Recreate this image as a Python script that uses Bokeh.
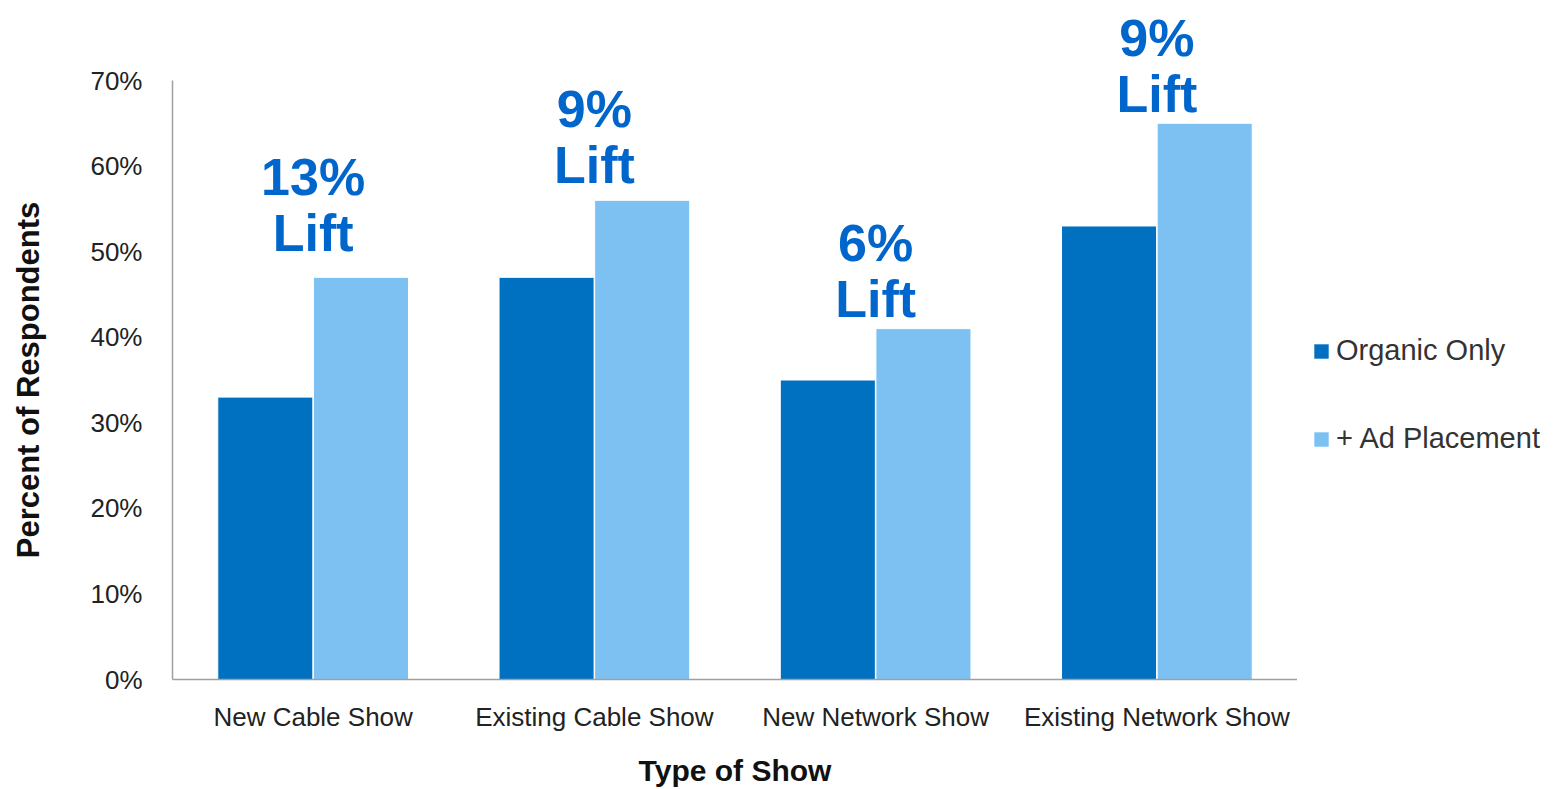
import math
from bokeh.plotting import figure
from bokeh.layouts import row
from bokeh.models import (ColumnDataSource, FactorRange, Range1d, FixedTicker,
                          PrintfTickFormatter, LabelSet, Label, Legend, LegendItem)
from bokeh.core.properties import value
from bokeh.transform import dodge
from bokeh.embed import file_html
from bokeh.resources import INLINE

categories = ["New Cable Show", "Existing Cable Show", "New Network Show", "Existing Network Show"]
organic = [33, 47, 35, 53]
ad_placement = [47, 56, 41, 65]
lift_text = ["13%", "9%", "6%", "9%"]
lift_gap = [3.1, 2.0, 1.4, 1.3]
y_ticks = [0, 10, 20, 30, 40, 50, 60, 70]
series_names = ["Organic Only", "+ Ad Placement"]
y_title = "Percent of Respondents"
x_title = "Type of Show"

FONT = "Liberation Sans"
DARK = "#0070C0"
LIGHT = "#7CC1F2"
LABEL = "#0066CC"
Y_VIEW = (0, 79.35)

src = ColumnDataSource(dict(
    cat=categories,
    organic=organic,
    ad=ad_placement,
    lift=lift_text,
    lift_word=["Lift"] * len(categories),
    label_y=[a + g for a, g in zip(ad_placement, lift_gap)],
))

# ---- left strip holding the rotated y-axis title (centred on the 0..70 axis) ----
tf = figure(width=56, height=789, output_backend="svg", toolbar_location=None,
            x_range=Range1d(0, 1), y_range=Range1d(*Y_VIEW),
            x_axis_type=None, y_axis_type=None,
            min_border_left=0, min_border_right=0, min_border_top=0, min_border_bottom=0)
tf.outline_line_color = None
tf.xgrid.grid_line_color = None
tf.ygrid.grid_line_color = None
tf.add_layout(Label(x=0.5, y=(y_ticks[0] + y_ticks[-1]) / 2, text=y_title, angle=math.pi / 2,
                    text_align="center", text_baseline="middle", text_font=FONT,
                    text_font_size="31px", text_font_style="bold", text_color="#111111"))

# ---- main chart: frame spans the full top area so the lift labels are not clipped ----
p = figure(width=1241, height=789, output_backend="svg", toolbar_location=None,
           x_range=FactorRange(*categories, range_padding=0),
           y_range=Range1d(*Y_VIEW),
           min_border_left=116, min_border_right=0, min_border_top=0, min_border_bottom=110)

p.vbar(x=dodge("cat", -0.17, range=p.x_range), top="organic", width=0.338, source=src,
       fill_color=DARK, line_color="white", line_width=1)
p.vbar(x=dodge("cat", 0.17, range=p.x_range), top="ad", width=0.338, source=src,
       fill_color=LIGHT, line_color="white", line_width=1)

p.add_layout(LabelSet(x="cat", y="label_y", text="lift", source=src, y_offset=56,
                      text_align="center", text_baseline="alphabetic", text_font=value(FONT),
                      text_font_size="52px", text_font_style="bold", text_color=LABEL))
p.add_layout(LabelSet(x="cat", y="label_y", text="lift_word", source=src,
                      text_align="center", text_baseline="alphabetic", text_font=value(FONT),
                      text_font_size="52px", text_font_style="bold", text_color=LABEL))

p.outline_line_color = None
p.xgrid.grid_line_color = None
p.ygrid.grid_line_color = None

for ax in (p.xaxis[0], p.yaxis[0]):
    ax.axis_line_color = "#a0a0a0"
    ax.axis_line_width = 1.5
    ax.major_tick_line_color = None
    ax.minor_tick_line_color = None
    ax.major_label_text_font = FONT
    ax.major_label_text_font_size = "26px"
    ax.major_label_text_color = "#222222"
    ax.axis_label_text_font = FONT
    ax.axis_label_text_font_size = "30px"
    ax.axis_label_text_font_style = "bold"
    ax.axis_label_text_color = "#111111"

p.yaxis.ticker = FixedTicker(ticks=y_ticks)
p.yaxis.bounds = (y_ticks[0], y_ticks[-1])
p.yaxis.formatter = PrintfTickFormatter(format="%d%%")
p.yaxis.major_label_standoff = 24

p.xaxis.major_label_standoff = 16
p.xaxis.axis_label = x_title
p.xaxis.axis_label_standoff = 19

# ---- legend panel to the right of the chart ----
lg = figure(width=271, height=789, output_backend="svg", toolbar_location=None,
            x_range=Range1d(0, 1), y_range=Range1d(0, 1),
            x_axis_type=None, y_axis_type=None,
            min_border_left=0, min_border_right=0, min_border_top=0, min_border_bottom=0)
lg.outline_line_color = None
lg.xgrid.grid_line_color = None
lg.ygrid.grid_line_color = None
# swatch renderers only (placed outside the visible range, zero height)
k1 = lg.vbar(x=[5], top=[0], width=0.1, fill_color=DARK, line_color=None)
k2 = lg.vbar(x=[5], top=[0], width=0.1, fill_color=LIGHT, line_color=None)

legend = Legend(items=[LegendItem(label=series_names[0], renderers=[k1]),
                       LegendItem(label=series_names[1], renderers=[k2])],
                location=(15, 224), orientation="vertical",
                label_text_font=FONT, label_text_font_size="29px", label_text_color="#333333",
                glyph_width=18, glyph_height=18, label_standoff=6, spacing=55,
                padding=0, margin=0, border_line_color=None, background_fill_alpha=0)
lg.add_layout(legend, "center")

layout = row(tf, p, lg, spacing=0)
open("out.html", "w").write(file_html(layout, INLINE))
